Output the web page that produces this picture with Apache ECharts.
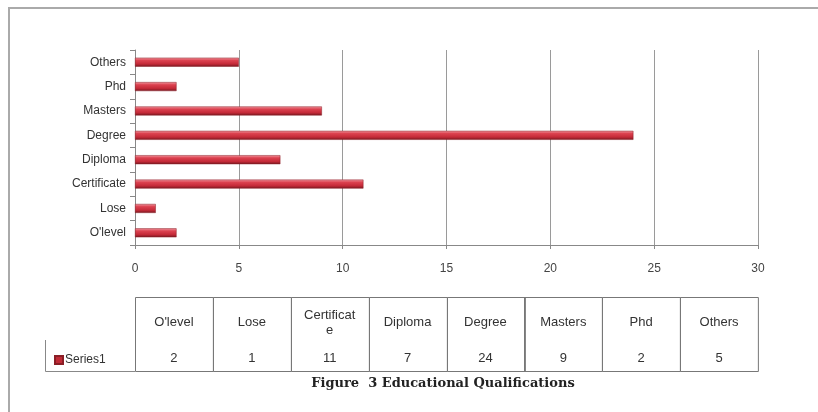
<!DOCTYPE html>
<html>
<head>
<meta charset="utf-8">
<script src="https://cdn.jsdelivr.net/npm/echarts@6/dist/echarts.min.js"></script>
<style>html,body{margin:0;padding:0;background:#fff}#c{width:818px;height:412px}</style>
</head>
<body>
<div id="c"></div>
<script>
var categories = ["O'level", "Lose", "Certificate", "Diploma", "Degree", "Masters", "Phd", "Others"];
var tableHeaders = ["O'level", "Lose", "Certificat\ne", "Diploma", "Degree", "Masters", "Phd", "Others"];
var values = [2, 1, 11, 7, 24, 9, 2, 5];
var xTicks = [0, 5, 10, 15, 20, 25, 30];
var seriesName = "Series1";
var titleText = "Figure  3 Educational Qualifications";

var chart = echarts.init(document.getElementById('c'), null, {renderer: 'canvas'});
var barColor = new echarts.graphic.LinearGradient(0, 0, 0, 1, [
  {offset: 0, color: '#f29aa2'},
  {offset: 0.3, color: '#dc4250'},
  {offset: 0.7, color: '#c42a38'},
  {offset: 1, color: '#761820'}
]);
var labelFont = 'Liberation Sans';

chart.setOption({
  animation: false,
  backgroundColor: '#fff',
  title: {
    text: titleText, left: 438, top: 372, textAlign: 'center',
    textStyle: {fontFamily: 'DejaVu Serif', fontWeight: 'bold', fontSize: 13, color: '#222'}
  },
  legend: {
    data: [{name: seriesName, icon: 'rect', itemStyle: {color: '#c02a36'}}],
    left: 49, top: 349, itemWidth: 8, itemHeight: 8, itemGap: 2,
    textStyle: {fontFamily: labelFont, fontSize: 12, color: '#333', padding: [0, 0, 0, -3]},
    selectedMode: false
  },
  graphic: [
    {type: 'rect', shape: {x: 9, y: 8, width: 900, height: 500}, style: {fill: 'none', stroke: '#aaa', lineWidth: 2}, silent: true},
    {type: 'polyline', shape: {points: [[45.5, 340], [45.5, 371.5], [135, 371.5]]}, style: {fill: 'none', stroke: '#888', lineWidth: 1}, silent: true}
  ],
  grid: [
    {left: 135, top: 50, width: 623, height: 195},
    {left: 135, top: 297, width: 623, height: 74}
  ],
  xAxis: [
    {
      type: 'value', gridIndex: 0, min: xTicks[0], max: xTicks[xTicks.length - 1], interval: 5,
      axisLine: {show: true, lineStyle: {color: '#888'}},
      axisTick: {show: true, length: 4, lineStyle: {color: '#888'}},
      splitLine: {show: true, lineStyle: {color: '#9a9a9a'}},
      axisLabel: {fontFamily: labelFont, fontSize: 12, color: '#444', margin: 18}
    },
    {
      type: 'category', gridIndex: 1, data: categories, boundaryGap: true,
      axisLine: {show: false}, axisTick: {show: false}, axisLabel: {show: false}, splitLine: {show: false}
    }
  ],
  yAxis: [
    {
      type: 'category', gridIndex: 0, data: categories,
      axisLine: {show: true, lineStyle: {color: '#888'}},
      axisTick: {show: true, length: 5, lineStyle: {color: '#888'}},
      axisLabel: {fontFamily: labelFont, fontSize: 12, color: '#333', margin: 9}
    },
    {
      type: 'value', gridIndex: 1, min: 0, max: 1, show: false
    }
  ],
  series: [
    {
      name: seriesName, type: 'bar', xAxisIndex: 0, yAxisIndex: 0,
      data: values, barWidth: 9,
      itemStyle: {color: barColor, borderColor: '#8a1e26', borderWidth: 0.5}
    },
    {
      name: seriesName, type: 'custom', xAxisIndex: 1, yAxisIndex: 1,
      data: values.map(function (v, i) { return [i, v]; }),
      encode: {x: 0, y: 1},
      renderItem: function (params, api) {
        var i = api.value(0);
        var c = api.coord([i, 1]);
        var b = api.coord([i, 0]);
        var w = api.size([1, 0])[0];
        var x0 = Math.round(c[0] - w / 2) + 0.5;
        var top = Math.round(c[1]) + 0.5;
        var bottom = Math.round(b[1]) + 0.5;
        return {
          type: 'group',
          children: [
            {type: 'rect', shape: {x: x0, y: top, width: w, height: bottom - top},
             style: {fill: 'none', stroke: '#777', lineWidth: 1}},
            {type: 'text', style: {text: tableHeaders[i], x: c[0], y: top + 25, align: 'center', verticalAlign: 'middle',
              fontFamily: labelFont, fontSize: 13, lineHeight: 15, fill: '#333'}},
            {type: 'text', style: {text: String(api.value(1)), x: c[0], y: top + 61, align: 'center', verticalAlign: 'middle',
              fontFamily: labelFont, fontSize: 13, fill: '#333'}}
          ]
        };
      }
    }
  ]
});
</script>
</body>
</html>
